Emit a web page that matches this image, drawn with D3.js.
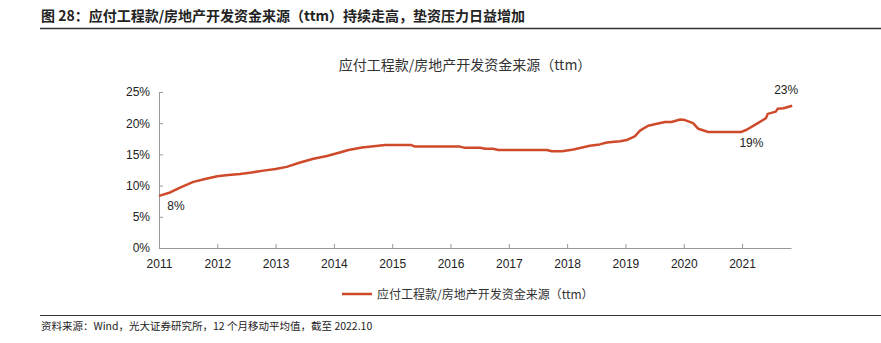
<!DOCTYPE html>
<html><head><meta charset="utf-8">
<script src="https://cdn.jsdelivr.net/npm/d3@7/dist/d3.min.js"></script>
<style>
body{margin:0;background:#fff;}
svg{display:block;font-family:"Noto Sans CJK SC","Liberation Sans",Arial,sans-serif;}
</style></head>
<body><svg id="c" width="881" height="343"></svg>
<script>
const figTitle = "图 28：应付工程款/房地产开发资金来源（ttm）持续走高，垫资压力日益增加";
const chartTitle = "应付工程款/房地产开发资金来源（ttm）";
const seriesName = "应付工程款/房地产开发资金来源（ttm）";
const sourceText = "资料来源：Wind，光大证券研究所，12 个月移动平均值，截至 2022.10";
const yearTicks = [2011,2012,2013,2014,2015,2016,2017,2018,2019,2020,2021];
const yTicks = [0,5,10,15,20,25];
const xPos = [2011.00,2011.19,2011.39,2011.59,2011.79,2012.00,2012.19,2012.39,2012.59,2012.79,
  2013.00,2013.19,2013.42,2013.65,2013.88,2014.10,2014.25,2014.48,2014.68,2014.88,
  2015.33,2015.39,2016.16,2016.25,2016.51,2016.59,2016.73,2016.82,2017.65,2017.74,
  2017.91,2018.11,2018.39,2018.56,2018.68,2018.91,2019.02,2019.16,2019.25,2019.39,
  2019.54,2019.68,2019.79,2019.94,2020.02,2020.16,2020.25,2020.42,2020.99,2021.08,
  2021.25,2021.41,2021.44,2021.58,2021.61,2021.71,2021.86];
const values = [8.35,8.9,9.8,10.6,11.05,11.5,11.7,11.85,12.1,12.4,
  12.65,13.0,13.7,14.3,14.75,15.3,15.7,16.1,16.3,16.5,
  16.5,16.25,16.25,16.05,16.05,15.9,15.9,15.7,15.7,15.5,
  15.5,15.8,16.4,16.6,16.9,17.1,17.3,17.9,18.8,19.6,
  19.9,20.2,20.2,20.6,20.5,20.0,19.1,18.6,18.6,18.95,
  19.9,20.8,21.5,21.85,22.3,22.4,22.8];
const annotations = [{i:0,label:"8%",dx:17,dy:14},{i:48,label:"19%",dx:10,dy:15},{i:56,label:"23%",dx:-6,dy:-12}];

const color = "#cf4a2a";
const svg = d3.select("#c");
const x = d3.scaleLinear().domain([2011, 2021.84]).range([159, 791]);
const y = d3.scaleLinear().domain([0, 25]).range([248, 92]);

// top header
svg.append("text").attr("x",41).attr("y",21).attr("font-size",14).attr("font-weight","bold")
  .attr("fill","#222").text(figTitle);
svg.append("line").attr("x1",40).attr("x2",881).attr("y1",28.5).attr("y2",28.5).attr("stroke","#333").attr("stroke-width",1.5);

svg.append("text").attr("x",465).attr("y",70).attr("text-anchor","middle").attr("font-size",14)
  .attr("fill","#333").text(chartTitle);

// axes
const gy = svg.append("g").attr("transform","translate(159,0)")
  .call(d3.axisRight(y).tickValues(yTicks).tickSize(4).tickFormat(d=>d+"%"));
gy.select(".domain").attr("stroke","#999");
gy.selectAll(".tick line").attr("stroke","#999");
gy.selectAll(".tick text").attr("x",-9).attr("text-anchor","end").attr("font-size",12)
  .attr("fill","#222").attr("font-family","Liberation Sans, Arial, sans-serif");

const gx = svg.append("g").attr("transform","translate(0,248)")
  .call(d3.axisTop(x).tickValues(yearTicks).tickSize(4).tickFormat(d3.format("d")).tickSizeOuter(0));
gx.select(".domain").attr("stroke","#999");
gx.selectAll(".tick line").attr("stroke","#999");
gx.selectAll(".tick text").attr("y",20).attr("font-size",12).attr("fill","#222")
  .attr("font-family","Liberation Sans, Arial, sans-serif");
gx.selectAll(".tick").filter(d=>d===2011).select("line").remove();

// line
const pts = xPos.map((d,i)=>[d, values[i]]);
svg.append("path").datum(pts).attr("fill","none").attr("stroke",color).attr("stroke-width",2.5)
  .attr("stroke-linejoin","round")
  .attr("d", d3.line().x(d=>x(d[0])).y(d=>y(d[1])));

// annotations
annotations.forEach(a=>{
  svg.append("text").attr("x", x(xPos[a.i])+a.dx).attr("y", y(values[a.i])+a.dy)
    .attr("text-anchor","middle").attr("font-size",12).attr("fill","#222")
    .attr("font-family","Liberation Sans, Arial, sans-serif").text(a.label);
});

// legend
svg.append("line").attr("x1",342).attr("x2",372).attr("y1",294).attr("y2",294).attr("stroke",color).attr("stroke-width",2.5);
svg.append("text").attr("x",377).attr("y",298.5).attr("font-size",12).attr("fill","#333").text(seriesName);

// footer
svg.append("line").attr("x1",40).attr("x2",881).attr("y1",315.5).attr("y2",315.5).attr("stroke","#333").attr("stroke-width",1.2);
svg.append("text").attr("x",41).attr("y",330).attr("font-size",10.5).attr("fill","#222").text(sourceText);
</script></body></html>
